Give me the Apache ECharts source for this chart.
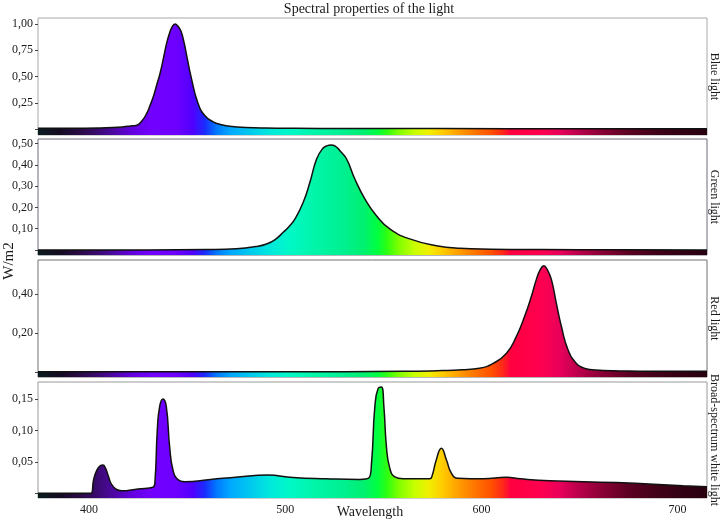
<!DOCTYPE html>
<html>
<head>
<meta charset="utf-8">
<script src="https://cdn.jsdelivr.net/npm/echarts@6/dist/echarts.min.js"></script>
<style>
html,body{margin:0;padding:0;background:#fff;}
#chart{width:722px;height:522px;}
</style>
</head>
<body>
<div id="chart"></div>
<script>
// ---------- DATA ----------
const panelNames = ['Blue light', 'Green light', 'Red light', 'Broad-spectrum white light'];

const blueX = [374, 395, 405, 412, 417, 421, 424.3, 427, 429.4, 431, 432.8, 434.5, 436.2, 438, 439.6, 441, 442.3, 443.8, 445.3, 446.9, 448.5, 450, 452, 455.5, 459, 463.3, 467, 473, 480, 490, 505, 530, 580, 650, 715];
const blueY = [0.008, 0.010, 0.012, 0.016, 0.022, 0.03, 0.038, 0.08, 0.15, 0.22, 0.31, 0.42, 0.53, 0.68, 0.82, 0.91, 0.97, 1.0, 0.98, 0.93, 0.82, 0.68, 0.50, 0.25, 0.13, 0.07, 0.045, 0.025, 0.017, 0.012, 0.009, 0.007, 0.006, 0.005, 0.005];

const greenX = [374, 430, 460, 475, 485, 490.5, 495, 499, 502, 505, 509.2, 512.6, 516, 519, 521.5, 523.3, 525.5, 528, 531.3, 535.5, 540.6, 546.5, 553.3, 563.5, 577, 589, 605, 630, 670, 715];
const greenY = [0.0, 0.0, 0.002, 0.006, 0.016, 0.028, 0.05, 0.083, 0.11, 0.146, 0.224, 0.318, 0.427, 0.475, 0.49, 0.493, 0.488, 0.465, 0.427, 0.333, 0.24, 0.161, 0.099, 0.052, 0.02, 0.008, 0.004, 0.002, 0.001, 0.0];

const redX = [374, 500, 560, 580, 590, 599, 606, 612.8, 617.8, 622, 625.5, 628, 630, 631.8, 633.6, 635.7, 638.2, 640.8, 644.2, 648.4, 652, 655.2, 662, 675, 695, 715];
const redY = [0, 0, 0.002, 0.006, 0.01, 0.018, 0.043, 0.095, 0.181, 0.284, 0.388, 0.474, 0.525, 0.546, 0.525, 0.474, 0.353, 0.233, 0.112, 0.043, 0.02, 0.012, 0.007, 0.004, 0.002, 0.002];

const whiteX = [374, 401, 402.3, 404, 405.8, 407.1, 408.4, 409.8, 411.5, 414, 416.5, 425, 432.6, 433.6, 434.8, 436, 437.7, 439.4, 441.1, 442.8, 445.3, 448.7, 462, 476, 491, 504, 521, 538, 542.5, 544, 545.7, 547.4, 549, 550.3, 551.6, 553.3, 555.9, 560, 573.7, 575, 577, 579.6, 582.2, 584.7, 588, 600.9, 612.8, 620, 634.8, 668.8, 702.7, 715];
const whiteY = [0, 0, 0.021, 0.037, 0.044, 0.045, 0.04, 0.028, 0.014, 0.006, 0.004, 0.007, 0.0095, 0.018, 0.10, 0.138, 0.150, 0.138, 0.074, 0.037, 0.022, 0.0185, 0.022, 0.026, 0.029, 0.025, 0.023, 0.022, 0.024, 0.048, 0.138, 0.167, 0.169, 0.138, 0.074, 0.04, 0.026, 0.023, 0.023, 0.029, 0.053, 0.0716, 0.053, 0.032, 0.024, 0.023, 0.0255, 0.023, 0.020, 0.017, 0.012, 0.0105];

const xTicks = [400, 500, 600, 700];
const yTicksBlue = [0.25, 0.50, 0.75, 1.00];
const yTicksGreen = [0.10, 0.20, 0.30, 0.40, 0.50];
const yTicksRed = [0.20, 0.40];
const yTicksWhite = [0.05, 0.10, 0.15];

// spectrum colour stops (wavelength nm -> colour)
const spectrumNm = [374, 385, 395, 403, 412, 422, 432, 445, 453, 459, 465, 472, 482, 492, 502, 515, 530, 540, 547, 552, 558, 566, 573, 580, 588, 596, 605, 611, 615, 630, 640, 650, 662, 675, 690, 705, 715];
const spectrumColors = ['#0a1c20', '#140c22', '#2a0a45', '#380a68', '#4c08a0', '#6300e0', '#7200ff', '#6c00ff', '#5000ff', '#1a2cff', '#0078ff', '#00a8ff', '#00c8ee', '#00e8dc', '#00f8c8', '#00f5a8', '#00f090', '#00f070', '#00ff40', '#30ff10', '#80ff00', '#c8ff00', '#f0f000', '#ffcc00', '#ffa000', '#ff7800', '#ff5000', '#ff2818', '#ff0040', '#ff0050', '#e8005a', '#b8004a', '#880035', '#5c0022', '#400018', '#300012', '#280010'];

// ---------- LAYOUT ----------
const X_MIN = 374, X_MAX = 715;
const panelTop = [18, 139, 260, 382];
const panelHeight = [117, 116, 117, 116];
const yMin = [-0.055, -0.0235, -0.027, -0.0075];
const yMax = [1.057, 0.521, 0.575, 0.177];
const seriesX = [blueX, greenX, redX, whiteX];
const seriesY = [blueY, greenY, redY, whiteY];
const yTickLists = [yTicksBlue, yTicksGreen, yTicksRed, yTicksWhite];
const borderColors = ['#a8a8a8', '#6a6f78', '#707070', '#999999'];

const FONT = "'Liberation Serif', 'DejaVu Serif', serif";
const gradStops = spectrumNm.map((nm, i) => ({ offset: (nm - X_MIN) / (X_MAX - X_MIN), color: spectrumColors[i] }));

const grids = [], xAxes = [], yAxes = [], series = [];
for (let i = 0; i < 4; i++) {
  grids.push({ left: 38, right: 15, top: panelTop[i], height: panelHeight[i], show: true, borderColor: borderColors[i], borderWidth: 1, backgroundColor: 'transparent', containLabel: false, outerBoundsMode: 'none' });
  const isLast = i === 3;
  xAxes.push({
    type: 'value', gridIndex: i, min: X_MIN, max: X_MAX,
    show: true,
    axisLine: { show: false },
    splitLine: { show: false },
    axisTick: { show: isLast, customValues: xTicks, length: 3, lineStyle: { color: '#555' } },
    axisLabel: { show: isLast, customValues: xTicks, fontFamily: FONT, fontSize: 12, color: '#1a1a1a', margin: 6 }
  });
  yAxes.push({
    type: 'value', gridIndex: i, min: yMin[i], max: yMax[i],
    axisLine: { show: false },
    splitLine: { show: false },
    axisTick: { show: true, customValues: [0].concat(yTickLists[i]), length: 3, lineStyle: { color: '#444' } },
    axisLabel: { customValues: yTickLists[i], fontFamily: FONT, fontSize: 12, color: '#1a1a1a', margin: 5,
      formatter: v => v.toFixed(2).replace('.', ',') }
  });
  yAxes.push({
    type: 'value', gridIndex: i, position: 'right', min: 0, max: 1,
    axisLine: { show: false }, axisTick: { show: false }, axisLabel: { show: false }, splitLine: { show: false },
    name: panelNames[i], nameLocation: 'middle', nameRotate: -90, nameGap: 1,
    nameTextStyle: { fontFamily: FONT, fontSize: 12, color: '#1a1a1a' }
  });
  series.push({
    type: 'line', xAxisIndex: i, yAxisIndex: i * 2,
    data: seriesX[i].map((x, k) => [x, seriesY[i][k]]),
    showSymbol: false, smooth: 0.5,
    lineStyle: { color: '#111', width: 1.5 },
    areaStyle: { origin: 'start', opacity: 1, color: new echarts.graphic.LinearGradient(0, 0, 1, 0, gradStops) },
    silent: true, animation: false
  });
}

const chart = echarts.init(document.getElementById('chart'), null, { renderer: 'canvas' });
chart.setOption({
  backgroundColor: '#fff',
  animation: false,
  title: { text: 'Spectral properties of the light', left: 369, top: 2, padding: 0, textAlign: 'center',
    textStyle: { fontFamily: FONT, fontSize: 14, fontWeight: 'normal', color: '#1a1a1a' } },
  grid: grids,
  xAxis: xAxes,
  yAxis: yAxes,
  series: series,
  graphic: [
    { type: 'text', x: 9, y: 261, rotation: Math.PI / 2,
      style: { text: 'W/m2', fontFamily: FONT, fontSize: 15, fill: '#1a1a1a', textAlign: 'center', textVerticalAlign: 'middle' } },
    { type: 'text', x: 370, y: 512,
      style: { text: 'Wavelength', fontFamily: FONT, fontSize: 14, fill: '#1a1a1a', textAlign: 'center', textVerticalAlign: 'middle' } }
  ]
});
</script>
</body>
</html>
